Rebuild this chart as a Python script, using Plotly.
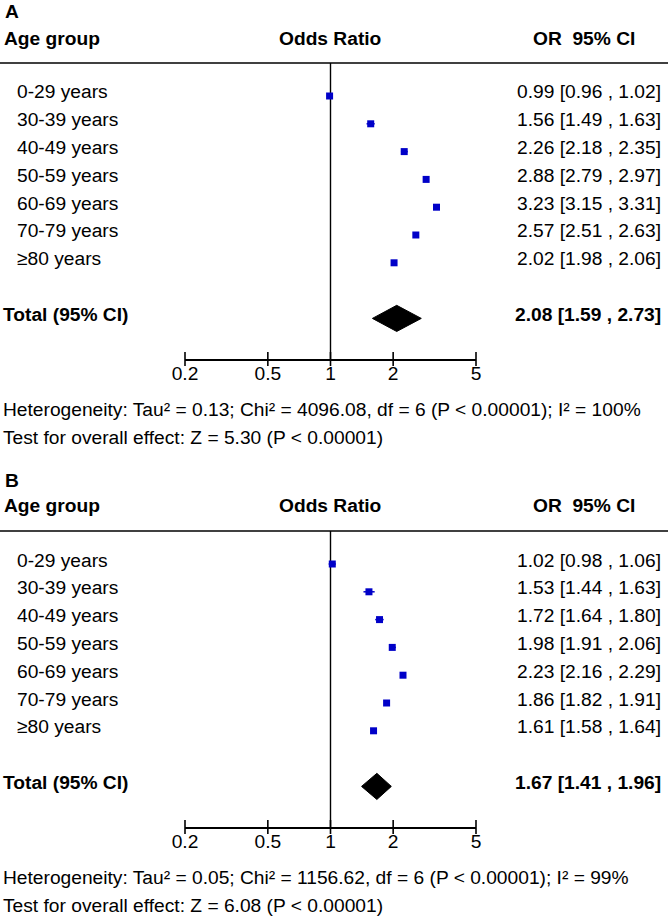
import math
import plotly.graph_objects as go

# ---- data ----
groups = ["0-29 years", "30-39 years", "40-49 years", "50-59 years",
          "60-69 years", "70-79 years", "≥80 years"]

or_a = [0.99, 1.56, 2.26, 2.88, 3.23, 2.57, 2.02]
lo_a = [0.96, 1.49, 2.18, 2.79, 3.15, 2.51, 1.98]
hi_a = [1.02, 1.63, 2.35, 2.97, 3.31, 2.63, 2.06]
total_a = (2.08, 1.59, 2.73)
het_a = "Heterogeneity: Tau² = 0.13; Chi² = 4096.08, df = 6 (P < 0.00001); I² = 100%"
test_a = "Test for overall effect: Z = 5.30 (P < 0.00001)"

or_b = [1.02, 1.53, 1.72, 1.98, 2.23, 1.86, 1.61]
lo_b = [0.98, 1.44, 1.64, 1.91, 2.16, 1.82, 1.58]
hi_b = [1.06, 1.63, 1.80, 2.06, 2.29, 1.91, 1.64]
total_b = (1.67, 1.41, 1.96)
het_b = "Heterogeneity: Tau² = 0.05; Chi² = 1156.62, df = 6 (P < 0.00001); I² = 99%"
test_b = "Test for overall effect: Z = 6.08 (P < 0.00001)"

ticks = [0.2, 0.5, 1, 2, 5]
tick_labels = ["0.2", "0.5", "1", "2", "5"]

# ---- layout constants (pixels) ----
W, H = 671, 918
FONT = "Liberation Sans, Arial, sans-serif"
FS = 19.2
BLUE = "#0000c8"
ROW_H = 27.8
FIRST_ROW = 96        # centre of first row in panel A
TOP_LINE = 63         # header rule
AXIS_Y = 359          # x axis line
OFFSET_B = 468        # vertical shift of panel B
X_LEFT, X_RIGHT = 185, 476
TOTAL_ROW = len(groups) + 1


def py(px):
    return 1 - px / H


def pxx(px):
    return px / W


fig = go.Figure()
annotations = []
shapes = []


def panel(idx, letter, ors, los, his, total, het, test, off):
    xa = "x" if idx == 1 else "x2"
    ya = "y" if idx == 1 else "y2"
    r_top = (TOP_LINE - FIRST_ROW) / ROW_H
    r_bot = (AXIS_Y - FIRST_ROW) / ROW_H
    rows = list(range(len(groups)))

    # reference line at OR = 1
    fig.add_trace(go.Scatter(x=[1, 1], y=[r_top, r_bot], mode="lines",
                             line=dict(color="black", width=1.4),
                             xaxis=xa, yaxis=ya, hoverinfo="skip",
                             showlegend=False, cliponaxis=False))
    # tick marks crossing the axis line
    fig.add_trace(go.Scatter(x=ticks, y=[r_bot] * len(ticks), mode="markers",
                             marker=dict(symbol="line-ns", size=10,
                                         line=dict(width=1.6, color="black")),
                             xaxis=xa, yaxis=ya, hoverinfo="skip",
                             showlegend=False, cliponaxis=False))
    # study points
    fig.add_trace(go.Scatter(
        x=ors, y=rows, mode="markers",
        marker=dict(symbol="square", size=7, color=BLUE),
        error_x=dict(type="data", symmetric=False,
                     array=[h - o for h, o in zip(his, ors)],
                     arrayminus=[o - l for o, l in zip(ors, los)],
                     color=BLUE, thickness=1.5, width=0),
        xaxis=xa, yaxis=ya, showlegend=False, cliponaxis=False))
    # pooled diamond
    est, lo, hi = total
    dh = 0.47
    fig.add_trace(go.Scatter(
        x=[lo, est, hi, est, lo],
        y=[TOTAL_ROW, TOTAL_ROW - dh, TOTAL_ROW, TOTAL_ROW + dh, TOTAL_ROW],
        mode="lines", fill="toself", fillcolor="black",
        line=dict(color="black", width=1),
        xaxis=xa, yaxis=ya, showlegend=False, cliponaxis=False))

    axis_x = dict(type="log", range=[math.log10(0.2), math.log10(5)],
                  domain=[pxx(X_LEFT), pxx(X_RIGHT)], anchor=ya,
                  tickvals=ticks, ticktext=tick_labels, ticks="",
                  ticklabelstandoff=-4, automargin=False,
                  showline=True, linecolor="black", linewidth=1.6,
                  showgrid=False, zeroline=False, fixedrange=True,
                  tickfont=dict(family=FONT, size=FS, color="black"))
    axis_y = dict(range=[r_bot, r_top], domain=[py(AXIS_Y + off), py(TOP_LINE + off)],
                  anchor=xa, visible=False, showgrid=False, zeroline=False,
                  automargin=False, fixedrange=True)
    if idx == 1:
        fig.update_layout(xaxis=axis_x, yaxis=axis_y)
    else:
        fig.update_layout(xaxis2=axis_x, yaxis2=axis_y)

    def txt(text, x, y, anchor="left", bold=False, yref="paper", shift=0):
        annotations.append(dict(
            text=f"<b>{text}</b>" if bold else text, x=x, y=y,
            xref="paper", yref=yref, xanchor=anchor, yanchor="middle",
            showarrow=False, yshift=shift,
            font=dict(family=FONT, size=FS, color="black")))

    txt(letter, pxx(3), py(12 + off), bold=True)
    txt("Age group", pxx(2), py(38 + off), bold=True)
    txt("Odds Ratio", pxx(330), py(38 + off), anchor="center", bold=True)
    txt("OR\u00a0 95% CI", pxx(584), py(38 + off), anchor="center", bold=True)

    for i, g in enumerate(groups):
        txt(g, pxx(15), i, yref=ya, shift=4)
        txt(f"{ors[i]:.2f} [{los[i]:.2f} , {his[i]:.2f}]", pxx(663), i,
            anchor="right", yref=ya, shift=4)
    txt("Total (95% CI)", pxx(1), TOTAL_ROW, bold=True, yref=ya, shift=4)
    txt(f"{est:.2f} [{lo:.2f} , {hi:.2f}]", pxx(663), TOTAL_ROW,
        anchor="right", bold=True, yref=ya, shift=4)

    txt(het, pxx(1), py(409 + off))
    txt(test, pxx(1), py(437 + off))

    shapes.append(dict(type="line", xref="paper", yref="paper",
                       x0=0, x1=pxx(668), y0=py(TOP_LINE + off), y1=py(TOP_LINE + off),
                       line=dict(color="black", width=1.6)))


panel(1, "A", or_a, lo_a, hi_a, total_a, het_a, test_a, 0)
panel(2, "B", or_b, lo_b, hi_b, total_b, het_b, test_b, OFFSET_B)

fig.update_layout(
    width=W, height=H,
    margin=dict(l=0, r=0, t=0, b=0, autoexpand=False),
    paper_bgcolor="white", plot_bgcolor="white",
    annotations=annotations, shapes=shapes,
    font=dict(family=FONT, size=FS, color="black"),
)

fig.write_html("out.html", config={"displayModeBar": False},
               post_script="document.body.style.margin='0';"
                           "document.body.style.overflow='hidden';")
